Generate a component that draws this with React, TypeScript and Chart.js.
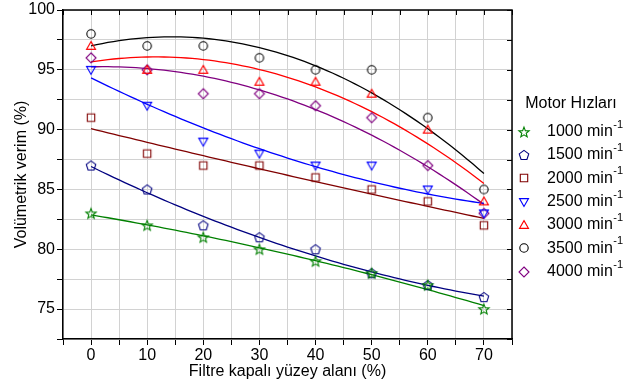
import React, { useEffect, useRef } from 'react';
import { Chart, registerables } from 'chart.js';

Chart.register(...registerables);

// ---- data ----
const xValues = [0, 10, 20, 30, 40, 50, 60, 70];
const speedLabels = ['1000', '1500', '2000', '2500', '3000', '3500', '4000'];
const rpm1000 = [83, 82, 81, 80, 79, 78, 77, 75];
const rpm1500 = [87, 85, 82, 81, 80, 78, 77, 76];
const rpm2000 = [91, 88, 87, 87, 86, 85, 84, 82];
const rpm2500 = [95, 92, 89, 88, 87, 87, 85, 83];
const rpm3000 = [97, 95, 95, 94, 94, 93, 90, 84];
const rpm3500 = [98, 97, 97, 96, 95, 95, 91, 85];
const rpm4000 = [96, 95, 93, 93, 92, 91, 87, 83];
const seriesValues = [rpm1000, rpm1500, rpm2000, rpm2500, rpm3000, rpm3500, rpm4000];
const seriesColors = ['#008000', '#000080', '#800000', '#0000FF', '#FF0000', '#000000', '#800080'];
const markerKinds = ['star', 'pentagon', 'square', 'triangleDown', 'triangleUp', 'circle', 'diamond'];
const xTickLabels = ['0', '10', '20', '30', '40', '50', '60', '70'];
const yTickLabels = ['75', '80', '85', '90', '95', '100'];
const legendTitle = 'Motor Hızları';
const unitText = 'min';
const unitSup = '-1';
const xTitle = 'Filtre kapalı yüzey alanı (%)';
const yTitle = 'Volümetrik verim (%)';

const FONT = '"Liberation Sans", Arial, sans-serif';

// quadratic least-squares fit (as in the original fitted curves)
function quadFit(xs: number[], ys: number[]) {
  let s0 = 0, s1 = 0, s2 = 0, s3 = 0, s4 = 0, t0 = 0, t1 = 0, t2 = 0;
  for (let i = 0; i < xs.length; i++) {
    const x = xs[i], y = ys[i];
    s0 += 1; s1 += x; s2 += x * x; s3 += x * x * x; s4 += x * x * x * x;
    t0 += y; t1 += x * y; t2 += x * x * y;
  }
  const M = [
    [s0, s1, s2, t0],
    [s1, s2, s3, t1],
    [s2, s3, s4, t2],
  ];
  for (let c = 0; c < 3; c++) {
    let p = c;
    for (let r = c + 1; r < 3; r++) if (Math.abs(M[r][c]) > Math.abs(M[p][c])) p = r;
    [M[c], M[p]] = [M[p], M[c]];
    for (let r = 0; r < 3; r++) {
      if (r === c) continue;
      const f = M[r][c] / M[c][c];
      for (let k = c; k < 4; k++) M[r][k] -= f * M[c][k];
    }
  }
  const a = M[0][3] / M[0][0], b = M[1][3] / M[1][1], cc = M[2][3] / M[2][2];
  return (x: number) => a + b * x + cc * x * x;
}

function makeMarker(kind: string, color: string) {
  const size = 14;
  const c = document.createElement('canvas');
  c.width = size;
  c.height = size;
  const ctx = c.getContext('2d')!;
  ctx.strokeStyle = color;
  ctx.lineWidth = 1.1;
  ctx.lineJoin = 'miter';
  const cx = size / 2, cy = size / 2;
  const poly = (n: number, r: number, startDeg: number, dy = 0) => {
    for (let i = 0; i < n; i++) {
      const a = ((startDeg + (360 / n) * i) * Math.PI) / 180;
      const px = cx + r * Math.cos(a), py = cy + dy + r * Math.sin(a);
      if (i === 0) ctx.moveTo(px, py); else ctx.lineTo(px, py);
    }
  };
  ctx.beginPath();
  switch (kind) {
    case 'circle':
      ctx.arc(cx, cy, 4.2, 0, Math.PI * 2);
      break;
    case 'square':
      ctx.rect(cx - 3.7, cy - 3.7, 7.4, 7.4);
      break;
    case 'diamond':
      poly(4, 5.0, -90);
      break;
    case 'triangleUp':
      poly(3, 5.2, -90, 0.8);
      break;
    case 'triangleDown':
      poly(3, 5.2, 90, -0.8);
      break;
    case 'pentagon':
      poly(5, 5.0, -90, 0.4);
      break;
    case 'star': {
      for (let i = 0; i < 10; i++) {
        const r = i % 2 === 0 ? 5.4 : 2.3;
        const a = ((-90 + 36 * i) * Math.PI) / 180;
        const px = cx + r * Math.cos(a), py = cy + 0.5 + r * Math.sin(a);
        if (i === 0) ctx.moveTo(px, py); else ctx.lineTo(px, py);
      }
      break;
    }
  }
  ctx.closePath();
  ctx.stroke();
  return c;
}

export default function App() {
  const ref = useRef<HTMLCanvasElement>(null);

  useEffect(() => {
    if (!ref.current) return;
    const markers = markerKinds.map((k, i) => makeMarker(k, seriesColors[i]));

    const fitDatasets = seriesValues.map((vals, i) => {
      const f = quadFit(xValues, vals);
      const pts = [] as { x: number; y: number }[];
      for (let x = xValues[0]; x <= xValues[xValues.length - 1]; x += 1) pts.push({ x, y: f(x) });
      return {
        label: speedLabels[i] + ' fit',
        data: pts,
        showLine: true,
        borderColor: seriesColors[i],
        borderWidth: 1.3,
        pointRadius: 0,
        pointHoverRadius: 0,
        fill: false,
        tension: 0,
        order: 10,
      };
    });

    const pointDatasets = seriesValues.map((vals, i) => ({
      label: speedLabels[i] + ' ' + unitText + unitSup,
      data: vals.map((v, j) => ({ x: xValues[j], y: v })),
      showLine: false,
      pointStyle: markers[i],
      pointRadius: 5,
      borderColor: seriesColors[i],
      backgroundColor: 'transparent',
      order: 1,
    }));

    const framePlugin = {
      id: 'frame',
      afterDraw(chart: any) {
        const { ctx, chartArea, scales } = chart;
        const { left, right, top, bottom } = chartArea;
        ctx.save();
        ctx.strokeStyle = '#000';
        ctx.lineWidth = 1.5;
        ctx.beginPath();
        ctx.moveTo(left - 0.75, top);
        ctx.lineTo(right, top);
        ctx.lineTo(right, bottom + 0.75);
        ctx.stroke();
        ctx.lineWidth = 1;
        ctx.beginPath();
        for (const t of scales.x.ticks) {
          const px = Math.round(scales.x.getPixelForValue(t.value)) + 0.5;
          ctx.moveTo(px, top);
          ctx.lineTo(px, top + 5);
        }
        for (const t of scales.y.ticks) {
          const py = Math.round(scales.y.getPixelForValue(t.value)) + 0.5;
          ctx.moveTo(right, py);
          ctx.lineTo(right - 5, py);
        }
        ctx.stroke();
        ctx.restore();
      },
    };

    const legendPlugin = {
      id: 'customLegend',
      afterDraw(chart: any) {
        const { ctx } = chart;
        ctx.save();
        ctx.fillStyle = '#000';
        ctx.textBaseline = 'middle';
        ctx.font = '16px ' + FONT;
        ctx.textAlign = 'center';
        ctx.fillText(legendTitle, 571, 104);
        ctx.textAlign = 'left';
        speedLabels.forEach((lab, i) => {
          const y = 131.7 + i * 23.33;
          const m = markers[i];
          ctx.drawImage(m, Math.round(524 - m.width / 2), Math.round(y - m.height / 2));
          ctx.font = '16px ' + FONT;
          const main = lab + ' ' + unitText;
          ctx.fillText(main, 547, y);
          const w = ctx.measureText(main).width;
          ctx.font = '11px ' + FONT;
          ctx.fillText(unitSup, 547 + w + 0.5, y - 7);
        });
        ctx.restore();
      },
    };

    const chart = new Chart(ref.current, {
      type: 'scatter',
      data: { datasets: [...pointDatasets, ...fitDatasets] as any },
      options: {
        responsive: false,
        animation: false,
        devicePixelRatio: 1,
        layout: { padding: { left: 0, right: 131, top: 8, bottom: 0 } },
        plugins: { legend: { display: false }, tooltip: { enabled: false } },
        scales: {
          x: {
            type: 'linear',
            min: -5,
            max: 75,
            afterFit: (s: any) => { s.height = 50; },
            ticks: {
              stepSize: 5,
              autoSkip: false,
              maxRotation: 0,
              padding: 3,
              color: '#000',
              font: { family: FONT, size: 16, lineHeight: 1 },
              callback: (v: any) => (xTickLabels.includes(String(v)) ? String(v) : ''),
            },
            grid: { color: '#d2d2d2', lineWidth: 1, tickColor: '#000', tickLength: 6, tickWidth: 1 },
            border: { color: '#000', width: 1.5 },
            title: {
              display: true,
              text: xTitle,
              color: '#000',
              font: { family: FONT, size: 16 },
              padding: { top: 0, bottom: 8 },
            },
          },
          y: {
            type: 'linear',
            min: 72.5,
            max: 100,
            afterFit: (s: any) => { s.width = 63; },
            ticks: {
              stepSize: 2.5,
              autoSkip: false,
              padding: 2,
              color: '#000',
              font: { family: FONT, size: 16, lineHeight: 1 },
              callback: (v: any) => (yTickLabels.includes(String(v)) ? String(v) : ''),
            },
            grid: { color: '#d2d2d2', lineWidth: 1, tickColor: '#000', tickLength: 6, tickWidth: 1 },
            border: { color: '#000', width: 1.5 },
            title: {
              display: true,
              text: yTitle,
              color: '#000',
              font: { family: FONT, size: 16 },
              padding: { top: 12, bottom: 0 },
            },
          },
        },
      },
      plugins: [framePlugin, legendPlugin],
    } as any);
    return () => chart.destroy();
  }, []);

  return (
    <div style={{ position: 'fixed', left: 0, top: 0, width: 643, height: 389, background: '#fff' }}>
      <canvas ref={ref} width={643} height={389} style={{ display: 'block' }} />
    </div>
  );
}
